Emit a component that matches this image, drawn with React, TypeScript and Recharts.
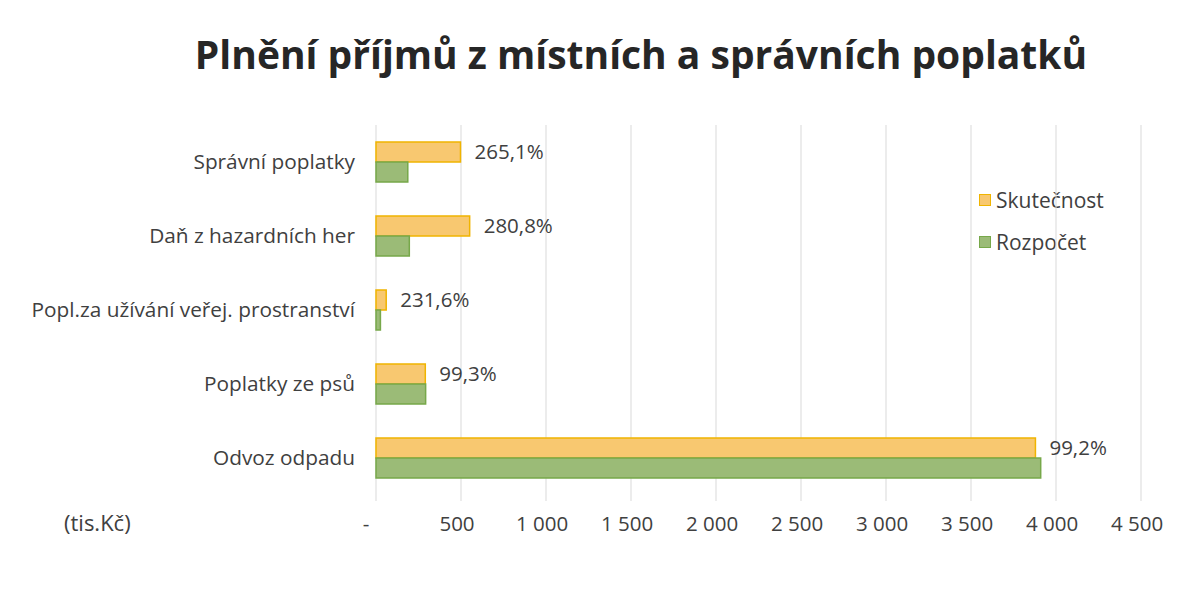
import React from "react";
import { BarChart, Bar, XAxis, YAxis, CartesianGrid, LabelList } from "recharts";

const categories = [
  "Správní poplatky",
  "Daň z hazardních her",
  "Popl.za užívání veřej. prostranství",
  "Poplatky ze psů",
  "Odvoz odpadu",
];
const skutecnost = [497, 551, 60, 290, 3879];
const rozpocet = [187, 196, 26, 292, 3910];
const plneni = ["265,1%", "280,8%", "231,6%", "99,3%", "99,2%"];
const xTicks = [0, 500, 1000, 1500, 2000, 2500, 3000, 3500, 4000, 4500];

const data = categories.map((name, i) => ({
  name,
  skutecnost: skutecnost[i],
  rozpocet: rozpocet[i],
  plneni: plneni[i],
}));

const FONT = "'Open Sans', 'Noto Sans', sans-serif";
const TEXT = "#404040";
const ORANGE = { fill: "#F8C870", stroke: "#F0B400" };
const GREEN = { fill: "#9BBB77", stroke: "#77A84A" };

const fmt = (v: number) => (v === 0 ? "-" : v.toLocaleString("en-US").replace(/,/g, " "));

const XTick = (props: any) => {
  const { x, y, payload } = props;
  const dx = payload.value === 0 ? -10 : -4;
  return (
    <text x={x + dx} y={y + 28} textAnchor="middle" fill={TEXT} fontSize={20.5} fontFamily={FONT}>
      {fmt(payload.value)}
    </text>
  );
};

const PctLabel = (props: any) => {
  const { x, y, width, height, value } = props;
  return (
    <text x={x + width + 14} y={y + height / 2 + 2} dominantBaseline="middle" fill={TEXT} fontSize={20.5} fontFamily={FONT}>
      {value}
    </text>
  );
};

const legendItems = [
  { label: "Skutečnost", ...ORANGE },
  { label: "Rozpočet", ...GREEN },
];

export default function App() {
  return (
    <div style={{ position: "absolute", left: 0, top: 0, width: 1199, height: 608, background: "#fff" }}>
      <div
        style={{
          position: "absolute",
          top: 27,
          left: 0,
          width: 1282,
          textAlign: "center",
          fontFamily: FONT,
          fontWeight: 700,
          fontSize: 39,
          color: "#262626",
        }}
      >
        Plnění příjmů z místních a správních poplatků
      </div>
      <div style={{ position: "absolute", left: 64, top: 507, fontFamily: FONT, fontSize: 22, color: TEXT }}>
        (tis.Kč)
      </div>
      <div style={{ position: "absolute", left: 979, top: 179, fontFamily: FONT, fontSize: 21, color: TEXT }}>
        {legendItems.map((it) => (
          <div key={it.label} style={{ display: "flex", alignItems: "center", height: 42 }}>
            <span style={{ width: 10, height: 10, background: it.fill, border: `1px solid ${it.stroke}`, marginRight: 5 }} />
            {it.label}
          </div>
        ))}
      </div>
      <div style={{ position: "absolute", left: 0, top: 0 }}>
        <BarChart
          width={1199}
          height={608}
          data={data}
          layout="vertical"
          margin={{ top: 125, right: 58, bottom: 83, left: 0 }}
          barSize={20}
          barGap={0}
        >
          <CartesianGrid horizontal={false} stroke="#d9d9d9" />
          <XAxis
            type="number"
            domain={[0, 4500]}
            ticks={xTicks}
            axisLine={false}
            tickLine={{ stroke: "#d9d9d9" }}
            tickSize={6}
            tick={<XTick />}
            interval={0}
            height={30}
          />
          <YAxis
            type="category"
            dataKey="name"
            width={376}
            axisLine={false}
            tickLine={false}
            tick={{ fill: TEXT, fontSize: 20.8, fontFamily: FONT }}
            tickMargin={15}
          />
          <Bar dataKey="skutecnost" name="Skutečnost" fill={ORANGE.fill} stroke={ORANGE.stroke} strokeWidth={1.5} isAnimationActive={false}>
            <LabelList dataKey="plneni" content={<PctLabel />} />
          </Bar>
          <Bar dataKey="rozpocet" name="Rozpočet" fill={GREEN.fill} stroke={GREEN.stroke} strokeWidth={1.5} isAnimationActive={false} />
        </BarChart>
      </div>
    </div>
  );
}
